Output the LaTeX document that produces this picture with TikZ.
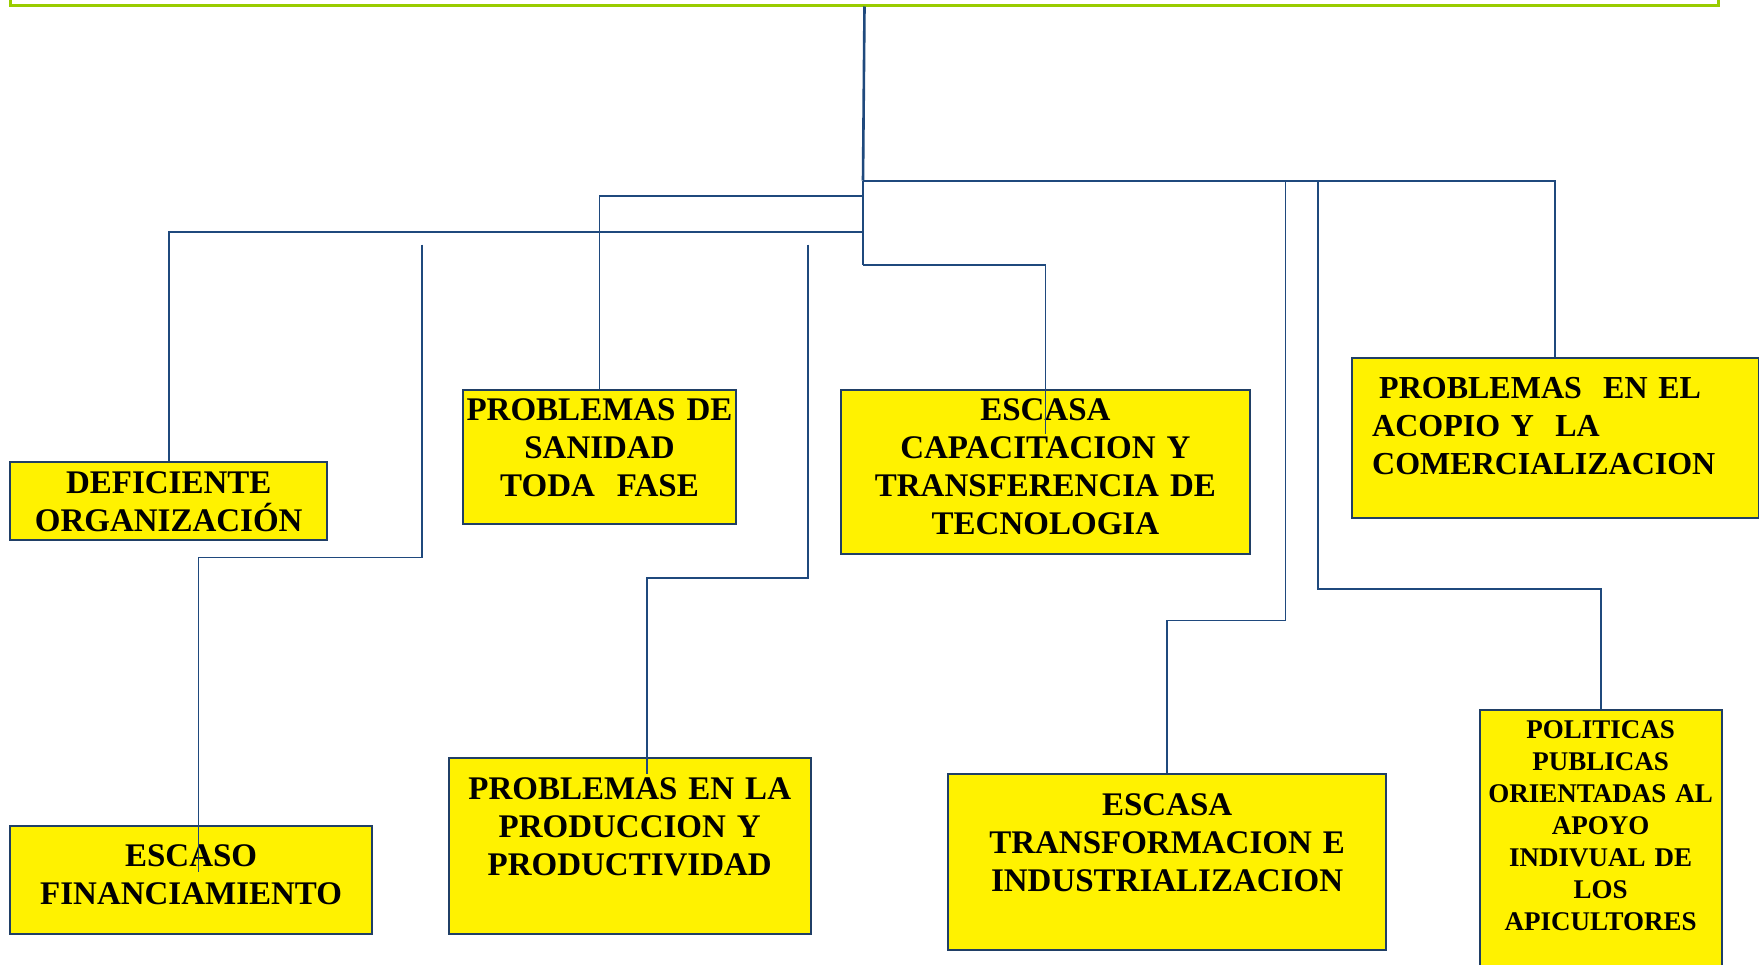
\documentclass[tikz,border=0pt]{standalone}
\usepackage{fontspec}
\setmainfont{Liberation Serif}
\usepackage{tikz}
\usetikzlibrary{positioning, calc}

\definecolor{linkblue}{HTML}{1F497D}
\definecolor{boxblue}{HTML}{203F66}
\definecolor{topgreen}{HTML}{99CC00}

\begin{document}
\begin{tikzpicture}[x=1pt, y=-1pt,
  box/.style={draw=boxblue, fill=yellow, line width=2pt, inner sep=0pt, anchor=north west},
  txt/.style={font=\fontsize{33}{38}\selectfont\bfseries, align=center, inner sep=0pt, anchor=base},
  link/.style={draw=linkblue, line width=1.8pt},
  trunk/.style={draw=linkblue, line width=2.6pt}]
\useasboundingbox (0,0) rectangle (1759,964);
\clip (0,0) rectangle (1759,964);
% top box
\node[draw=topgreen, line width=3pt, inner sep=0pt, anchor=north west,
      minimum width=1708pt, minimum height=103.5pt] (top) at (9,-100) {};
% boxes
\node[box, minimum width=317.4pt, minimum height=77.5pt]  (org) at (9,461) {};
\node[box, minimum width=272.6pt, minimum height=133.5pt] (san) at (462.2,389.3) {};
\node[box, minimum width=408.4pt, minimum height=163.8pt] (cap) at (840.2,389.3) {};
\node[box, minimum width=407.4pt, minimum height=160.5pt] (aco) at (1350.6,356.7) {};
\node[box, minimum width=362.3pt, minimum height=108.8pt] (fin) at (9,824.5) {};
\node[box, minimum width=362.3pt, minimum height=176.1pt] (pro) at (447.6,757.2) {};
\node[box, minimum width=438.6pt, minimum height=176.2pt] (tra) at (946.8,772.9) {};
\node[box, minimum width=242.3pt, minimum height=300pt]   (pol) at (1478.5,709) {};
% texts
\node[txt, text width=317pt] (org-t) at ([yshift=-32.6pt]org.north) {DEFICIENTE\\ORGANIZACIÓN};
\node[txt, text width=272pt] (san-t) at ([yshift=-31.4pt]san.north) {PROBLEMAS DE\\SANIDAD\\TODA\ \ FASE};
\node[txt, text width=408pt] (cap-t) at ([yshift=-31.4pt]cap.north) {ESCASA\\CAPACITACION Y\\TRANSFERENCIA DE\\TECNOLOGIA};
\node[txt, text width=380pt, align=left, anchor=base west, font=\fontsize{32}{38}\selectfont\bfseries] (aco-t)
  at ([xshift=21.4pt,yshift=-41.5pt]aco.north west)
  {\hspace*{7pt}PROBLEMAS\ \ EN EL\\ACOPIO Y\ \ LA\\COMERCIALIZACION};
\node[txt, text width=362pt] (fin-t) at ([yshift=-41.5pt]fin.north) {ESCASO\\FINANCIAMIENTO};
\node[txt, text width=362pt] (pro-t) at ([yshift=-42.6pt]pro.north) {PROBLEMAS EN LA\\PRODUCCION Y\\PRODUCTIVIDAD};
\node[txt, text width=438pt] (tra-t) at ([yshift=-42.6pt]tra.north) {ESCASA\\TRANSFORMACION E\\INDUSTRIALIZACION};
\node[txt, text width=242pt, font=\fontsize{27}{32.1}\selectfont\bfseries] (pol-t) at ([yshift=-29.2pt]pol.north)
  {POLITICAS\\PUBLICAS\\ORIENTADAS AL\\APOYO\\INDIVUAL DE\\LOS\\APICULTORES};
% trunk and branches
\coordinate (j1) at (863,180.6);
\coordinate (j2) at (863,196.3);
\coordinate (j3) at (863,232.2);
\coordinate (j4) at (863,264.7);
\draw[trunk] (top.south) -- (j1);
\draw[link] (j1) -- (j4);
\draw[link] (j1) -| (aco.north);
\draw[link] (j2) -| (san.north);
\draw[link] (j3) -| (org.north);
\draw[link] (j4) -| ([yshift=-45pt]cap.north);
% right branches
\coordinate (b1) at (1285.6,180.6);
\coordinate (b2) at (1318.1,180.6);
\draw[link, line width=1.4pt] (b1) -- ++(0,439.8) -| (tra.north);
\draw[link] (b2) -- ++(0,408.4) -| (pol.north);
% loose lines
\coordinate (f1) at (421.8,244.5);
\coordinate (f2) at (807.7,244.5);
\draw[link] (f1) -- ++(0,313) -| ([xshift=7.3pt,yshift=-47pt]fin.north);
\draw[link] (f2) -- ++(0,333.2) -| ([xshift=17.4pt,yshift=-16.8pt]pro.north);
\end{tikzpicture}
\end{document}
